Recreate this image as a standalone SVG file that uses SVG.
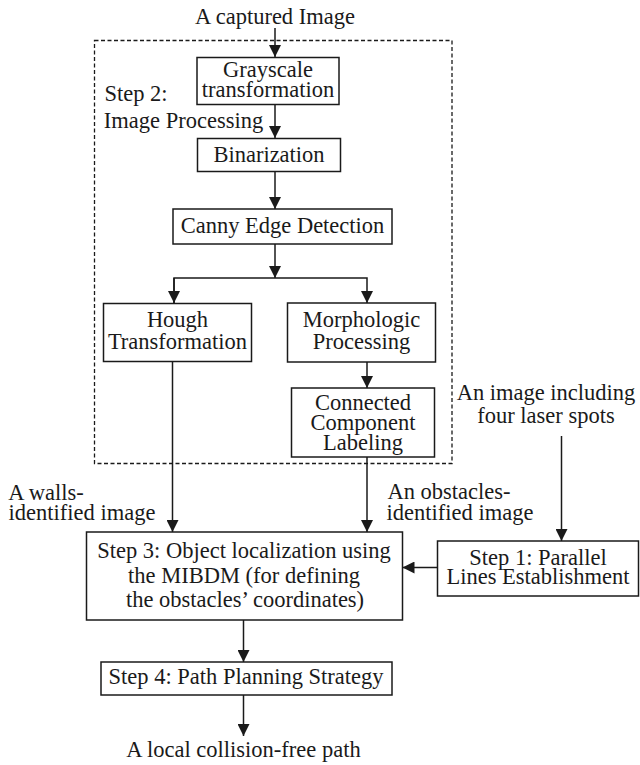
<svg xmlns="http://www.w3.org/2000/svg" width="640" height="765" viewBox="0 0 640 765">
<style>
text{font-family:"Liberation Serif","Times New Roman",serif;font-size:22.5px;fill:#1a1a1a;text-anchor:middle}
.box{fill:#fff;stroke:#1a1a1a;stroke-width:1.5}
.ln{fill:none;stroke:#1a1a1a;stroke-width:1.5}
.dash{fill:none;stroke:#1a1a1a;stroke-width:1.3;stroke-dasharray:4 2.5}
</style>
<defs>
<marker id="ah" markerWidth="12" markerHeight="12" viewBox="0 0 12 12" refX="12" refY="6" orient="auto" markerUnits="userSpaceOnUse">
<path d="M0,0 L12,6 L0,12 Z" fill="#1a1a1a"/>
</marker>
</defs>
<rect id="step2-frame" class="dash" x="94.5" y="40.5" width="357.5" height="423"/>
<g id="connectors">
<line class="ln" x1="275" y1="28" x2="275" y2="57" marker-end="url(#ah)"/>
<line class="ln" x1="275" y1="104" x2="275" y2="138" marker-end="url(#ah)"/>
<line class="ln" x1="275" y1="171" x2="275" y2="209" marker-end="url(#ah)"/>
<line class="ln" x1="275" y1="244" x2="275" y2="278" marker-end="url(#ah)"/>
<polyline class="ln" points="174,303 174,278 367,278 367,303" marker-end="url(#ah)"/>
<line class="ln" x1="174" y1="278" x2="174" y2="303" marker-end="url(#ah)"/>
<line class="ln" x1="367" y1="362" x2="367" y2="388" marker-end="url(#ah)"/>
<line class="ln" x1="172.5" y1="362" x2="172.5" y2="532" marker-end="url(#ah)"/>
<line class="ln" x1="367" y1="457" x2="367" y2="532" marker-end="url(#ah)"/>
<line class="ln" x1="561.5" y1="436" x2="561.5" y2="541" marker-end="url(#ah)"/>
<line class="ln" x1="437" y1="567.5" x2="402.5" y2="567.5" marker-end="url(#ah)"/>
<line class="ln" x1="243.5" y1="620" x2="243.5" y2="662" marker-end="url(#ah)"/>
<line class="ln" x1="243.5" y1="695" x2="243.5" y2="736" marker-end="url(#ah)"/>
</g>
<g id="input-label"><text x="275" y="24">A captured Image</text></g>
<g id="step2-label"><text x="136" y="101">Step 2:</text><text x="183.5" y="128">Image Processing</text></g>
<g id="grayscale"><rect class="box" x="197" y="57.5" width="142" height="47"/><text x="268" y="77">Grayscale</text><text x="268" y="97">transformation</text></g>
<g id="binarization"><rect class="box" x="197.5" y="138.5" width="143" height="33"/><text x="269" y="162">Binarization</text></g>
<g id="canny"><rect class="box" x="173" y="209" width="219" height="35"/><text x="282.5" y="233">Canny Edge Detection</text></g>
<g id="hough"><rect class="box" x="103.5" y="303.5" width="148" height="58"/><text x="177.5" y="327">Hough</text><text x="177.5" y="349">Transformation</text></g>
<g id="morphologic"><rect class="box" x="287.5" y="303" width="148" height="59"/><text x="361.5" y="327">Morphologic</text><text x="361.5" y="349">Processing</text></g>
<g id="ccl"><rect class="box" x="291.5" y="388" width="143" height="69"/><text x="363" y="410">Connected</text><text x="363" y="430">Component</text><text x="363" y="450">Labeling</text></g>
<g id="laser-label"><text x="546" y="400">An image including</text><text x="546" y="423">four laser spots</text></g>
<g id="walls-label"><text x="46" y="500">A walls-</text><text x="82" y="520">identified image</text></g>
<g id="obstacles-label"><text x="449" y="499">An obstacles-</text><text x="460" y="520">identified image</text></g>
<g id="step3"><rect class="box" x="86.5" y="532" width="316" height="88"/><text x="244" y="558">Step 3: Object localization using</text><text x="244" y="583">the MIBDM (for defining</text><text x="245" y="607">the obstacles’ coordinates)</text></g>
<g id="step1"><rect class="box" x="437.5" y="541" width="201" height="55"/><text x="538" y="565">Step 1: Parallel</text><text x="538" y="584">Lines Establishment</text></g>
<g id="step4"><rect class="box" x="101" y="662" width="291" height="33"/><text x="246" y="684">Step 4: Path Planning Strategy</text></g>
<g id="output-label"><text x="243.5" y="757">A local collision-free path</text></g>
</svg>
